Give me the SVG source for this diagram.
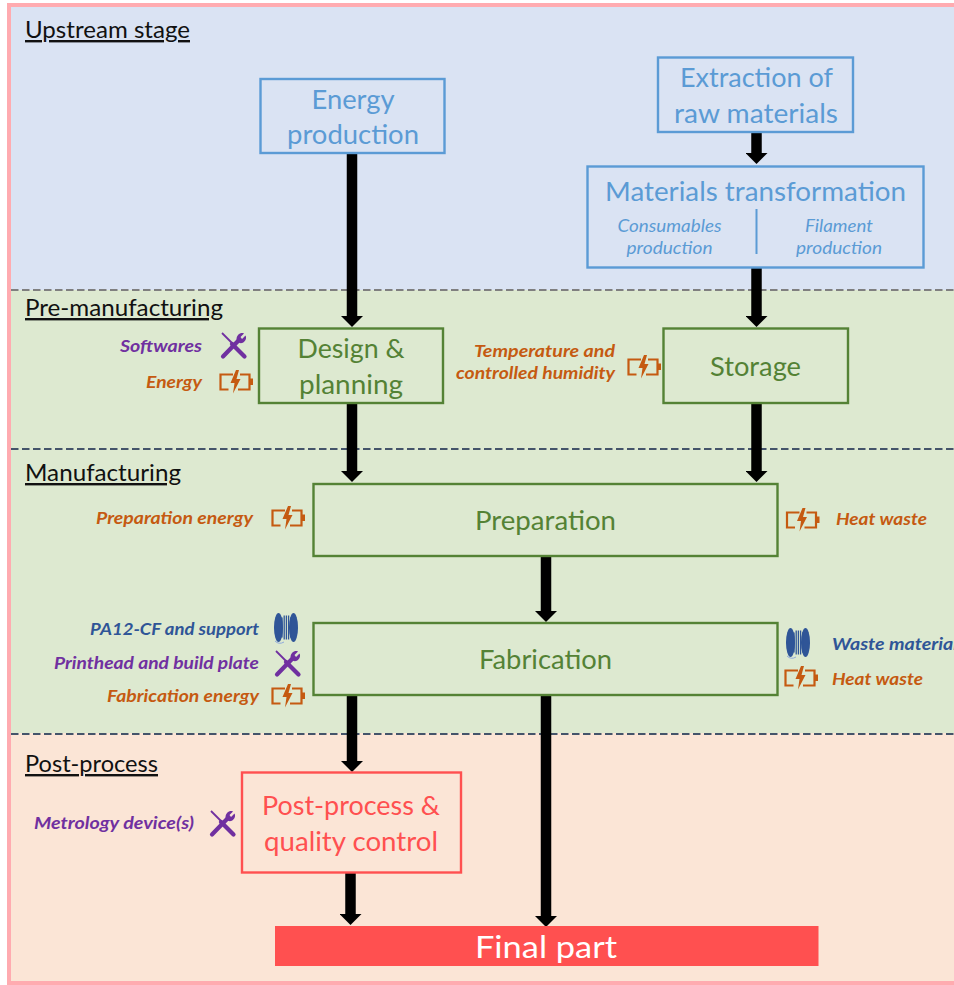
<svg xmlns="http://www.w3.org/2000/svg" width="954" height="985" viewBox="0 0 954 985">
<style>
text{font-family:Lato,"Liberation Sans",sans-serif}
.stage{font-size:24px;fill:#111;text-decoration:underline}
.n{fill:none;stroke-width:2.4}
.blue{stroke:#5b9bd5}.green{stroke:#548235}.red{stroke:#ff5050}
.tb,.tg,.tr{text-anchor:middle;font-size:26.5px}
.tb{fill:#5b9bd5}.tg{fill:#548235}.tr{fill:#ff5050}
.sub{font-size:17.5px;font-style:italic;fill:#5b9bd5;text-anchor:middle}
.l{font-size:17px;font-style:italic;font-weight:700}
.o{fill:#c55a11}.p{fill:#7030a0}.d{fill:#2f5597}
.dash{fill:none;stroke-width:2;stroke-dasharray:7.5 3.5}
.ar{fill:none;stroke:#000;stroke-width:10.5}
</style>
<defs>
<symbol id="bat" viewBox="0 0 34 24" overflow="visible">
<path d="M14 4.500H1.500V19.500H9.500M21 4.500H30.500V19.500H19" fill="none" stroke="#c55a11" stroke-width="2.200"/>
<path d="M31 8.500h3v6.500h-3z" fill="#c55a11"/>
<path d="M17 0L11.500 13H15.500L14 23.500L21.500 9H17.500L20 0z" fill="#c55a11"/>
</symbol>
<symbol id="tool" viewBox="0 0 28 28" overflow="visible">
<path d="M2 2L13 13" fill="none" stroke="#7030a0" stroke-width="1.800"/>
<path d="M12 13L24.500 25.500" fill="none" stroke="#7030a0" stroke-width="4.200" stroke-linecap="round"/>
<path d="M3 25.500L18.500 9.500" fill="none" stroke="#7030a0" stroke-width="4.200" stroke-linecap="round"/>
<path d="M16.500 8.500C16.500 4 20.500 1 24 2.500L20.500 6L22 8L25.500 4.500C27.500 8 24 13 19.500 12z" fill="#7030a0"/>
</symbol>
<symbol id="spool" viewBox="0 0 24 32" overflow="visible">
<ellipse cx="4.500" cy="15.500" rx="4.500" ry="14.500" fill="#2f5597"/>
<ellipse cx="19.500" cy="15.500" rx="4.500" ry="14.500" fill="#2f5597"/>
<path d="M8 5.500V25.500M10.200 3.500V27.500M12.400 3.500V27.500M14.600 3.500V27.500M16.800 5.500V25.500" fill="none" stroke="#2f5597" stroke-width="1.300"/>
<path d="M1 29Q5 33 10 30" fill="none" stroke="#8faadc" stroke-width="1"/>
</symbol>
<marker id="h" markerUnits="userSpaceOnUse" markerWidth="12" markerHeight="22" refX="0" refY="11" orient="auto" viewBox="0 0 12 22">
<path d="M0 0L11 11L0 22z" fill="#000"/>
</marker>
</defs>

<g id="background">
<rect width="954" height="985" fill="#fff"/>
<rect x="9" y="5" width="945" height="285" fill="#dae3f3"/>
<rect x="9" y="290" width="945" height="443" fill="#dde9d0"/>
<rect x="9" y="733" width="945" height="250" fill="#fbe5d6"/>
<path d="M954 5H9V983H954" fill="none" stroke="#ffabb0" stroke-width="4"/>
<path class="dash" stroke="#7f7f7f" d="M11 290H954"/>
<path class="dash" stroke="#44546a" d="M11 449H954"/>
<path class="dash" stroke="#44546a" d="M11 734H954"/>
</g>

<g id="stages">
<text class="stage" x="25" y="38" textLength="165" lengthAdjust="spacingAndGlyphs">Upstream stage</text>
<text class="stage" x="25" y="316" textLength="198" lengthAdjust="spacingAndGlyphs">Pre-manufacturing</text>
<text class="stage" x="25" y="481" textLength="156" lengthAdjust="spacingAndGlyphs">Manufacturing</text>
<text class="stage" x="25" y="772" textLength="133" lengthAdjust="spacingAndGlyphs">Post-process</text>
</g>

<g id="connectors">
<path class="ar" marker-end="url(#h)" d="M352 153V316"/>
<path class="ar" marker-end="url(#h)" d="M756.500 132V153"/>
<path class="ar" marker-end="url(#h)" d="M756.500 267V316"/>
<path class="ar" marker-end="url(#h)" d="M352 403V471"/>
<path class="ar" marker-end="url(#h)" d="M756.500 403V471"/>
<path class="ar" marker-end="url(#h)" d="M546 556V611"/>
<path class="ar" marker-end="url(#h)" d="M352 695V761"/>
<path class="ar" marker-end="url(#h)" d="M546 695V916"/>
<path class="ar" marker-end="url(#h)" d="M350.500 872V914"/>
</g>

<g id="energy-production">
<rect class="n blue" x="260.500" y="79" width="184" height="74"/>
<text class="tb" x="353" y="109" textLength="83" lengthAdjust="spacingAndGlyphs">Energy</text>
<text class="tb" x="353" y="144" textLength="132" lengthAdjust="spacingAndGlyphs">production</text>
</g>
<g id="extraction">
<rect class="n blue" x="658" y="57.500" width="195" height="74.500"/>
<text class="tb" x="756.500" y="87" textLength="153" lengthAdjust="spacingAndGlyphs">Extraction of</text>
<text class="tb" x="756" y="123" textLength="164" lengthAdjust="spacingAndGlyphs">raw materials</text>
</g>
<g id="materials-transformation">
<rect class="n blue" x="587.500" y="166.500" width="336" height="101"/>
<text class="tb" x="755.500" y="201" textLength="301" lengthAdjust="spacingAndGlyphs">Materials transformation</text>
<path d="M756.500 209V254" fill="none" stroke="#5b9bd5" stroke-width="2"/>
<text class="sub" x="669.500" y="232" textLength="104" lengthAdjust="spacingAndGlyphs">Consumables</text>
<text class="sub" x="669.500" y="254" textLength="86" lengthAdjust="spacingAndGlyphs">production</text>
<text class="sub" x="839" y="232" textLength="68" lengthAdjust="spacingAndGlyphs">Filament</text>
<text class="sub" x="839" y="254" textLength="86" lengthAdjust="spacingAndGlyphs">production</text>
</g>
<g id="design-planning">
<rect class="n green" x="259" y="328.500" width="184" height="74.500"/>
<text class="tg" x="351" y="358" textLength="107" lengthAdjust="spacingAndGlyphs">Design &amp;</text>
<text class="tg" x="351" y="394" textLength="104" lengthAdjust="spacingAndGlyphs">planning</text>
<use href="#tool" x="220" y="331" width="28" height="28"/>
<use href="#bat" x="219" y="370" width="34" height="24"/>
<text class="l p" x="202" y="352" text-anchor="end" textLength="82" lengthAdjust="spacingAndGlyphs">Softwares</text>
<text class="l o" x="202" y="388" text-anchor="end" textLength="56" lengthAdjust="spacingAndGlyphs">Energy</text>
</g>
<g id="storage">
<rect class="n green" x="663.500" y="328.500" width="184.500" height="74.500"/>
<text class="tg" x="755.500" y="376" textLength="91" lengthAdjust="spacingAndGlyphs">Storage</text>
<use href="#bat" x="627" y="355" width="34" height="24"/>
<text class="l o" x="615" y="357" text-anchor="end" textLength="141" lengthAdjust="spacingAndGlyphs">Temperature and</text>
<text class="l o" x="615" y="379" text-anchor="end" textLength="159" lengthAdjust="spacingAndGlyphs">controlled humidity</text>
</g>
<g id="preparation">
<rect class="n green" x="313.500" y="484" width="464" height="72"/>
<text class="tg" x="545.500" y="530" textLength="141" lengthAdjust="spacingAndGlyphs">Preparation</text>
<use href="#bat" x="271" y="506" width="34" height="24"/>
<text class="l o" x="253" y="524" text-anchor="end" textLength="157" lengthAdjust="spacingAndGlyphs">Preparation energy</text>
<use href="#bat" x="785.500" y="508" width="34" height="24"/>
<text class="l o" x="836" y="525" textLength="91" lengthAdjust="spacingAndGlyphs">Heat waste</text>
</g>
<g id="fabrication">
<rect class="n green" x="313.500" y="623" width="464" height="72"/>
<text class="tg" x="545.500" y="669" textLength="133" lengthAdjust="spacingAndGlyphs">Fabrication</text>
<use href="#spool" x="274" y="612" width="24" height="32"/>
<use href="#tool" x="274" y="649" width="28" height="28"/>
<use href="#bat" x="271" y="684" width="34" height="24"/>
<text class="l d" x="259" y="635" text-anchor="end" textLength="169" lengthAdjust="spacingAndGlyphs">PA12-CF and support</text>
<text class="l p" x="259" y="669" text-anchor="end" textLength="205" lengthAdjust="spacingAndGlyphs">Printhead and build plate</text>
<text class="l o" x="259" y="702" text-anchor="end" textLength="152" lengthAdjust="spacingAndGlyphs">Fabrication energy</text>
<use href="#spool" x="786" y="627" width="24" height="32"/>
<use href="#bat" x="784" y="666" width="34" height="24"/>
<text class="l d" x="832" y="650" textLength="126" lengthAdjust="spacingAndGlyphs">Waste material</text>
<text class="l o" x="832" y="685" textLength="91" lengthAdjust="spacingAndGlyphs">Heat waste</text>
</g>
<g id="post-process">
<rect class="n red" x="242" y="772.500" width="219" height="100"/>
<text class="tr" x="351" y="815" textLength="178" lengthAdjust="spacingAndGlyphs">Post-process &amp;</text>
<text class="tr" x="351" y="851" textLength="174" lengthAdjust="spacingAndGlyphs">quality control</text>
<use href="#tool" x="209" y="809" width="28" height="28"/>
<text class="l p" x="194" y="829" text-anchor="end" textLength="160" lengthAdjust="spacingAndGlyphs">Metrology device(s)</text>
</g>
<g id="final-part">
<rect x="275" y="926" width="543.500" height="40" fill="#ff5050"/>
<text x="546" y="958" text-anchor="middle" font-size="31" fill="#fff" textLength="142" lengthAdjust="spacingAndGlyphs">Final part</text>
</g>
</svg>
